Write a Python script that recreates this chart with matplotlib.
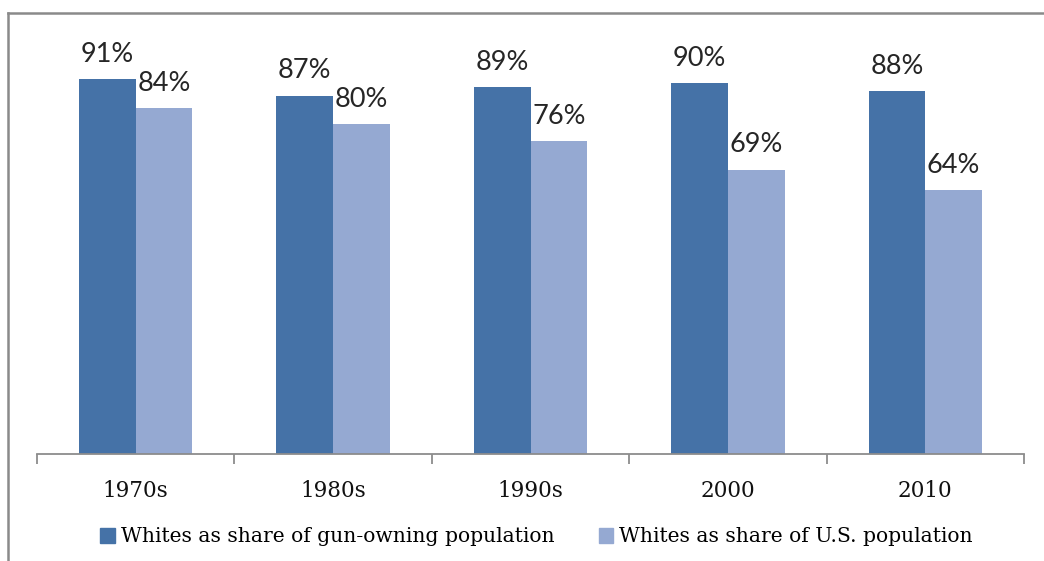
import matplotlib
matplotlib.use('Agg')
import matplotlib.pyplot as plt
from matplotlib.lines import Line2D
from matplotlib.patches import Patch
import numpy as np

decades = ['1970s', '1980s', '1990s', '2000', '2010']
gun_owners = [91, 87, 89, 90, 88]
us_pop = [84, 80, 76, 69, 64]
series_names = ['Whites as share of gun-owning population',
                'Whites as share of U.S. population']

dark = '#4572A7'
light = '#95A9D2'
axis_gray = '#8C8C8C'

W, H = 1044, 561
fig = plt.figure(figsize=(W/100, H/100), dpi=100)

# outer frame (only top and left visible in the reference)
fig.add_artist(Line2D([8/W, 8/W], [0, 1 - 13/H], color='#8A8A8A', lw=1.8))
fig.add_artist(Line2D([8/W, 1], [1 - 13/H, 1 - 13/H], color='#8A8A8A', lw=1.8))

ax = fig.add_axes([37/W, (H-454)/H, (1024-37)/W, (454-42)/H])

x = np.arange(len(decades))
bw = 0.287
b1 = ax.bar(x - bw/2, gun_owners, bw, color=dark)
b2 = ax.bar(x + bw/2, us_pop, bw, color=light)

for bars, vals in ((b1, gun_owners), (b2, us_pop)):
    for b, v in zip(bars, vals):
        ax.text(b.get_x() + b.get_width()/2, v + 3.0, '{}%'.format(v),
                ha='center', va='bottom', fontsize=19.5, family='Lato',
                color='#262626', clip_on=False)

ax.set_xlim(-0.5, len(decades) - 0.5)
ax.set_ylim(0, 100)
ax.set_yticks([])
for s in ('top', 'right', 'left'):
    ax.spines[s].set_visible(False)
ax.spines['bottom'].set_color(axis_gray)
ax.spines['bottom'].set_linewidth(1.3)

ax.set_xticks(np.arange(-0.5, len(decades)), minor=False)
ax.set_xticklabels([])
ax.tick_params(axis='x', which='major', direction='out', length=7,
               color=axis_gray, width=1.3)
ax.set_xticks(x, minor=True)
ax.set_xticklabels(decades, minor=True, family='DejaVu Serif', fontsize=15.5,
                   color='#111111')
ax.tick_params(axis='x', which='minor', length=0, pad=19)

handles = [Patch(color=dark), Patch(color=light)]
fig.legend(handles, series_names, loc='center', bbox_to_anchor=(0.514, 1 - 537/H),
           ncol=2, frameon=False, handlelength=0.7, handleheight=0.7,
           handletextpad=0.3, columnspacing=2.2,
           prop={'family': 'DejaVu Serif', 'size': 14.6})

fig.savefig('out.png', dpi=100, facecolor='white')
